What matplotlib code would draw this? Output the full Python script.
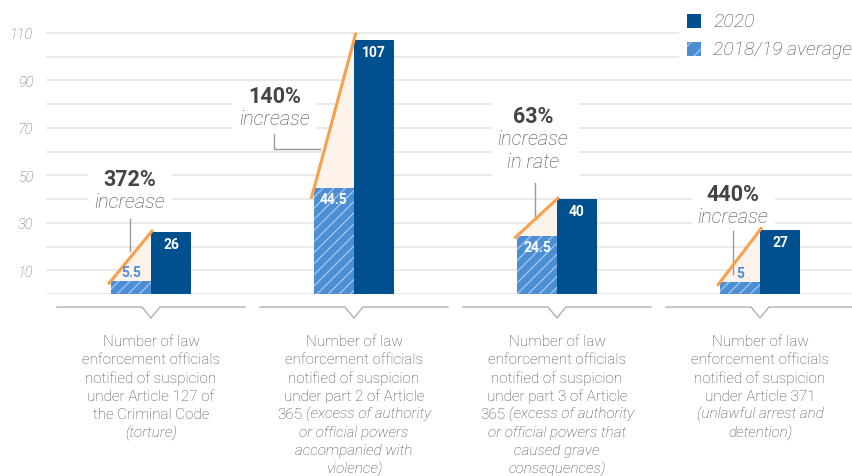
import matplotlib
matplotlib.use("Agg")
import matplotlib.pyplot as plt
from matplotlib.patches import Rectangle, Polygon
from matplotlib.transforms import offset_copy

plt.rcParams['font.family'] = ['Roboto', 'DejaVu Sans']
plt.rcParams['hatch.linewidth'] = 1.0

# data
avg_1819 = [5.5, 44.5, 24.5, 5]
val_2020 = [26, 107, 40, 27]
pct_labels = [["372%", "increase"], ["140%", "increase"],
              ["63%", "increase", "in rate"], ["440%", "increase"]]
# each line is a list of (text, italic) parts
cat_labels = [
    [[("Number of law", 0)], [("enforcement officials", 0)], [("notified of suspicion", 0)],
     [("under Article 127 of", 0)], [("the Criminal Code", 0)], [("(torture)", 1)]],
    [[("Number of law", 0)], [("enforcement officials", 0)], [("notified of suspicion", 0)],
     [("under part 2 of Article", 0)], [("365", 0), ("(excess of authority", 1)],
     [("or official powers", 1)], [("accompanied with", 1)], [("violence)", 1)]],
    [[("Number of law", 0)], [("enforcement officials", 0)], [("notified of suspicion", 0)],
     [("under part 3 of Article", 0)], [("365", 0), ("(excess of authority", 1)],
     [("or official powers that", 1)], [("caused grave", 1)], [("consequences)", 1)]],
    [[("Number of law", 0)], [("enforcement officials", 0)], [("notified of suspicion", 0)],
     [("under Article 371", 0)], [("(unlawful arrest and", 1)], [("detention)", 1)]],
]

DARK = '#00508f'
LIGHT = '#4c8ed4'
ORANGE = '#f9a04b'
PEACH = '#fdf3ea'
GREY_TXT = '#4a4a4a'

fig = plt.figure(figsize=(8.53, 4.77), dpi=100)
ax = fig.add_axes([46/853, 182/477, 807/853, 120*2.373/477])
ax.set_xlim(-0.517, 3.458)
ax.set_ylim(0, 120)
for s in ax.spines.values():
    s.set_visible(False)
ax.set_xticks([])
ax.set_yticks(range(10, 120, 20))
ax.set_yticklabels([str(v) for v in range(10, 120, 20)], fontstyle='italic',
                   fontweight='light', fontsize=10.5, color='#666666')
ax.tick_params(axis='y', length=0, pad=9)

for g in range(0, 120, 10):
    ax.axhline(g, color='#e8e8e8', lw=1.3, zorder=0)

w = 0.197
x = list(range(len(val_2020)))

# annotation layout: text x offset, first line y, box (x0, x1, y0, y1), leader
ann = [
    dict(dx=-0.103, y=48.5, box=(-0.31, 0.103, 33.7, 56.0), lead=[(-0.103, 31.6), (-0.103, 18.1)]),
    dict(dx=-0.389, y=83.4, box=(-0.601, -0.182, 68.7, 88.5),
         lead=[(-0.394, 67.4), (-0.394, 61.1), (-0.167, 61.1)]),
    dict(dx=-0.118, y=75.0, box=(-0.32, 0.108, 47.6, 82.2), lead=[(-0.108, 46.8), (-0.108, 32.9)]),
    dict(dx=-0.133, y=42.1, box=(-0.33, 0.074, 28.2, 48.5), lead=[(-0.133, 26.5), (-0.133, 8.4)]),
]

renderer = fig.canvas.get_renderer()

for i, c in enumerate(x):
    a, b = avg_1819[i], val_2020[i]
    # white box behind annotation text
    bx0, bx1, by0, by1 = ann[i]['box']
    ax.add_patch(Rectangle((c + bx0, by0), bx1 - bx0, by1 - by0, facecolor='white',
                           edgecolor='none', zorder=1))
    # shaded increase triangle
    ax.add_patch(Polygon([(c - w, a), (c, b), (c, a)], closed=True, facecolor=PEACH,
                         edgecolor='none', zorder=2))
    # bars
    ax.bar(c - w/2, a, width=w, color=LIGHT, edgecolor='#9fc3ec', linewidth=0,
           hatch='///', zorder=3)
    ax.bar(c + w/2, b, width=w, color=DARK, linewidth=0, zorder=3)
    # orange trend line
    t0, t1 = -0.07, 1.05
    ax.plot([c - w + t0*w, c - w + t1*w], [a + t0*(b - a), a + t1*(b - a)],
            color=ORANGE, lw=2.2, solid_capstyle='butt', zorder=4, clip_on=False)
    # value labels
    ax.annotate(str(b), (c + w/2, b), xytext=(0, -12), textcoords='offset pixels',
                ha='center', va='center', color='white', fontweight='bold', fontsize=10, zorder=6)
    if a > 15:
        ax.annotate(str(a), (c - w/2, a), xytext=(0, -11), textcoords='offset pixels',
                    ha='center', va='center', color='white', fontweight='bold', fontsize=10, zorder=6)
    else:
        ax.annotate(str(a), (c - w/2, a), xytext=(0, 9), textcoords='offset pixels',
                    ha='center', va='center', color=LIGHT, fontweight='bold', fontsize=10, zorder=6)
    # percent annotation
    lines = pct_labels[i]
    ax.text(c + ann[i]['dx'], ann[i]['y'], lines[0], ha='center', va='center',
            fontweight='bold', fontsize=15.5, color='#444444', zorder=6)
    for k, ln in enumerate(lines[1:]):
        ax.text(c + ann[i]['dx'], ann[i]['y'] - 9.6*(k + 1), ln, ha='center', va='center',
                fontstyle='italic', fontweight='light', fontsize=14.5, color=GREY_TXT, zorder=6)
    lx = [c + p[0] for p in ann[i]['lead']]
    ly = [p[1] for p in ann[i]['lead']]
    ax.plot(lx, ly, color='#999999', lw=1, zorder=2)

    # bracket under each group
    ax.plot([c - 0.463, c - 0.044, c, c + 0.044, c + 0.463], [-5.5, -5.5, -10.1, -5.5, -5.5],
            color='#b0b0b0', lw=1, clip_on=False, zorder=2)

    # category label lines
    for k, parts in enumerate(cat_labels[i]):
        yy = -19.8 - 7.67*k
        ts = []
        for s, it in parts:
            ts.append(ax.text(c, yy, s, ha='left', va='center', fontsize=11, fontweight='light',
                              fontstyle='italic' if it else 'normal', color=GREY_TXT,
                              clip_on=False))
        ws = [t.get_window_extent(renderer).width for t in ts]
        gap = 4
        total = sum(ws) + gap*(len(ts) - 1)
        off = -total/2
        for t, ww in zip(ts, ws):
            t.set_transform(offset_copy(ax.transData, fig=fig, x=off, y=0, units='dots'))
            off += ww + gap

# legend
fig.patches.append(Rectangle((679/853, 1 - 62/477), 174/853, 62/477, facecolor='white',
                             edgecolor='none', transform=fig.transFigure, zorder=5))
fig.patches.append(Rectangle((687/853, 1 - 29/477), 14/853, 14/477, facecolor=DARK,
                             edgecolor='none', transform=fig.transFigure, zorder=6))
fig.patches.append(Rectangle((687/853, 1 - 57/477), 14/853, 14/477, facecolor=LIGHT,
                             edgecolor='#9fc3ec', linewidth=0, hatch='//',
                             transform=fig.transFigure, zorder=6))
fig.text(713/853, 1 - 22/477, "2020", ha='left', va='center', fontsize=14,
         fontstyle='italic', fontweight='light', color=GREY_TXT, zorder=7)
fig.text(713/853, 1 - 50/477, "2018/19 average", ha='left', va='center', fontsize=14,
         fontstyle='italic', fontweight='light', color=GREY_TXT, zorder=7)

fig.savefig('out.png', dpi=100)
